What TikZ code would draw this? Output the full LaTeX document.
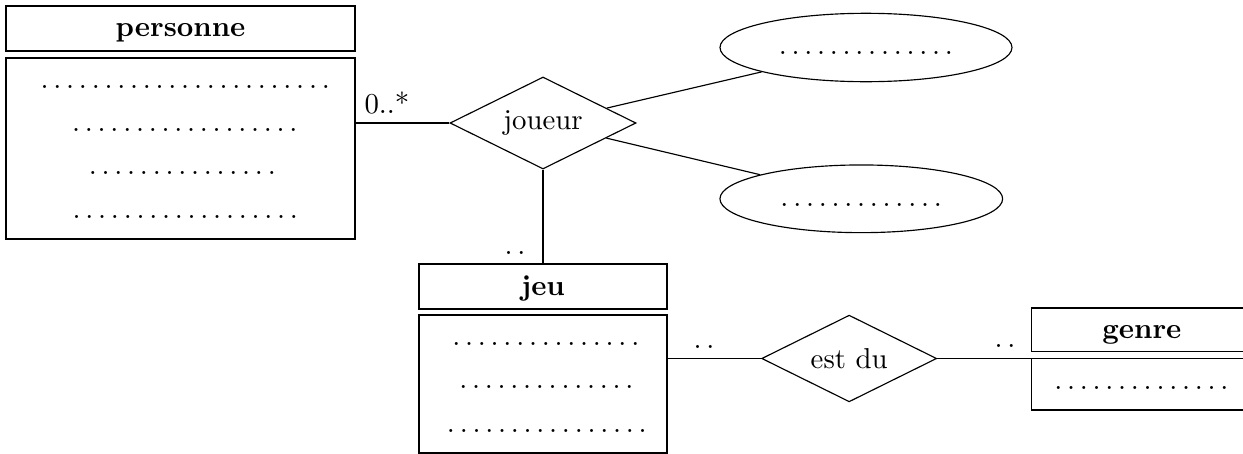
\documentclass[tikz,border=0pt]{standalone}
\usetikzlibrary{shapes.geometric}

% one drawing unit, used for node sizes
\newcommand\pxu{0.3472pt}

% a row of n spaced dots (math punctuation spacing)
\newcount\dotcnt
\def\dotloop{\ifnum\dotcnt>0 \ldotp\advance\dotcnt-1 \expandafter\dotloop\fi}
\newcommand\dotrow[1]{\dotcnt=#1\relax$\dotloop$}

\begin{document}
\begin{tikzpicture}[x=0.3472pt,y=-0.3472pt,
  box/.style={draw, rectangle, inner sep=0pt},
  headbox/.style={box, text height=7.4pt, text depth=1.5pt, font=\bfseries},
  rel/.style={draw, diamond, shape aspect=2, inner sep=0pt},
  attr/.style={draw, ellipse, inner sep=0pt, text height=6pt, text depth=1pt},
  dotline/.style={inner sep=0pt, anchor=base},
  card/.style={inner sep=0pt, anchor=base}]

\useasboundingbox (0,0) rectangle (1243,454);
\clip (0,0) rectangle (1243,454);

% entity: personne
\node[headbox, minimum width=349*\pxu, minimum height=45*\pxu] (phead) at (180.5,28.5) {personne};
\node[box, minimum width=349*\pxu, minimum height=181*\pxu] (pbody) at (180.5,148.5) {};
\node[dotline] (p1) at (185.5,88.8) {\dotrow{23}};
\node[dotline] (p2) at (185,131.8) {\dotrow{18}};
\node[dotline] (p3) at (182.5,174.8) {\dotrow{15}};
\node[dotline] (p4) at (185.5,218.5) {\dotrow{18}};

% relation: joueur and its attributes
\node[rel, minimum width=186*\pxu, minimum height=92*\pxu] (joueur) at (543,123) {joueur};
\node[attr, minimum width=292*\pxu, minimum height=68.4*\pxu] (a1) at (866,47.5) {\dotrow{14}};
\node[attr, minimum width=282.7*\pxu, minimum height=67.7*\pxu] (a2) at (861.3,198.8) {\dotrow{13}};

% entity: jeu
\node[headbox, minimum width=248*\pxu, minimum height=45*\pxu] (jhead) at (543,286.5) {jeu};
\node[box, minimum width=248*\pxu, minimum height=138*\pxu] (jbody) at (543,384) {};
\node[dotline] (j1) at (546,345.5) {\dotrow{15}};
\node[dotline] (j2) at (546.5,388.8) {\dotrow{14}};
\node[dotline] (j3) at (547,432.5) {\dotrow{16}};

% relation: est du
\node[rel, minimum width=175*\pxu, minimum height=86.7*\pxu] (estdu) at (849.2,358.5) {est du};

% entity: genre
\node[headbox, minimum width=220.3*\pxu, minimum height=43.7*\pxu] (ghead) at (1141.85,329.85) {genre};
\node[box, minimum width=220.3*\pxu, minimum height=51.3*\pxu] (gbody) at (1141.85,384.35) {};
\node[dotline] (g1) at (1141.5,389.5) {\dotrow{14}};

% connectors
\draw (joueur.west) -- (joueur.west -| pbody.east);
\draw (joueur) -- (a1);
\draw (joueur) -- (a2);
\draw (joueur) -- (jhead);
\draw (estdu.west) -- (estdu.west -| jbody.east);
\draw (estdu.east) -- (estdu.east -| gbody.west);

% multiplicities
\node[card, anchor=base west] (c1) at (364,113) {0..*};
\node[card] (c2) at (515,254.2) {$\ldotp\ldotp$};
\node[card] (c3) at (704,348.8) {$\ldotp\ldotp$};
\node[card] (c4) at (1005,347.5) {$\ldotp\ldotp$};
\end{tikzpicture}
\end{document}
